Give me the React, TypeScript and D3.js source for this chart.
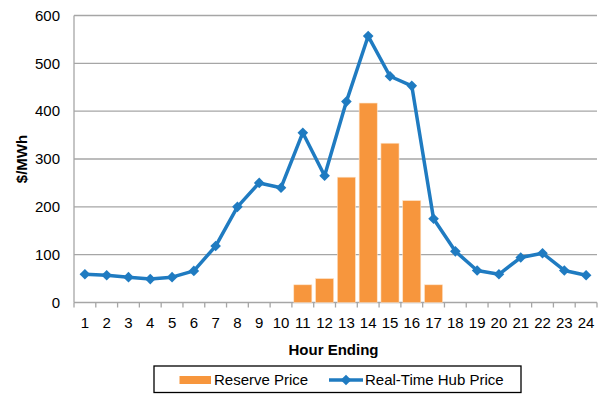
import React from 'react';
import * as d3 from 'd3';

const hours = d3.range(1, 25).map(String);
const hubPrice = [59, 57, 53, 49, 53, 66, 118, 200, 250, 240, 355, 265, 420, 557, 473, 453, 175, 107, 67, 59, 94, 103, 67, 57];
const reservePrice = [0, 0, 0, 0, 0, 0, 0, 0, 0, 0, 37, 50, 262, 417, 333, 213, 37, 0, 0, 0, 0, 0, 0, 0];
const yTicks = [0, 100, 200, 300, 400, 500, 600];

const width = 600;
const height = 399;
const margin = { top: 15.5, right: 3, bottom: 96.5, left: 74 };
const innerWidth = width - margin.left - margin.right;
const innerHeight = height - margin.top - margin.bottom;

const ORANGE = '#F7963D';
const BLUE = '#1F7BC1';
const FONT = 'Liberation Sans, Arial, sans-serif';

const App = () => {
  const x = d3.scaleBand().domain(hours).range([0, innerWidth]).paddingInner(0.17).paddingOuter(0.085);
  const xb = d3.scaleBand().domain(hours).range([0, innerWidth]);
  const y = d3.scaleLinear().domain([0, 600]).range([innerHeight, 0]);

  const line = d3.line<number>()
    .x((_, i) => (xb(hours[i]) as number) + xb.bandwidth() / 2)
    .y(d => y(d));

  const diamond = d3.symbol().type(d3.symbolDiamond2).size(72)();

  return (
    <svg width={width} height={height} style={{ position: 'absolute', left: 0, top: 0 }} fontFamily={FONT}>
      <g transform={`translate(${margin.left},${margin.top})`}>
        {yTicks.map(t => (
          <g key={t}>
            {t > 0 && <line x1={0} x2={innerWidth} y1={y(t)} y2={y(t)} stroke="#a6a6a6" strokeWidth={1.3} />}
            <text x={-14} y={y(t)} dy="0.35em" textAnchor="end" fontSize={15} fill="#000">{t}</text>
          </g>
        ))}
        <line x1={0} x2={0} y1={0} y2={innerHeight} stroke="#a6a6a6" strokeWidth={1.3} />
        <line x1={0} x2={innerWidth} y1={innerHeight} y2={innerHeight} stroke="#a6a6a6" strokeWidth={1.3} />
        {hours.map(h => (
          <line key={'t' + h} x1={xb(h)} x2={xb(h)} y1={innerHeight} y2={innerHeight + 5} stroke="#a6a6a6" strokeWidth={1.3} />
        ))}
        <line x1={innerWidth} x2={innerWidth} y1={innerHeight} y2={innerHeight + 5} stroke="#a6a6a6" strokeWidth={1.3} />
        {hours.map(h => (
          <text key={'l' + h} x={(xb(h) as number) + xb.bandwidth() / 2} y={innerHeight + 25} textAnchor="middle" fontSize={15} fill="#000">{h}</text>
        ))}
        {reservePrice.map((v, i) => v > 0 && (
          <rect key={'b' + i} x={x(hours[i])} y={y(v)} width={x.bandwidth()} height={innerHeight - y(v)} fill={ORANGE} stroke="#fde3c8" strokeWidth={0.6} />
        ))}
        <path d={line(hubPrice) as string} fill="none" stroke={BLUE} strokeWidth={3.5} strokeLinejoin="round" />
        {hubPrice.map((v, i) => (
          <path key={'m' + i} d={diamond as string} transform={`translate(${(xb(hours[i]) as number) + xb.bandwidth() / 2},${y(v)})`} fill={BLUE} />
        ))}
        <text x={innerWidth / 2 - 2} y={innerHeight + 52} textAnchor="middle" fontSize={15} fontWeight="bold">Hour Ending</text>
      </g>
      <text transform={`translate(27,${margin.top + innerHeight / 2}) rotate(-90)`} textAnchor="middle" fontSize={15} fontWeight="bold">$/MWh</text>
      <g>
        <rect x={154} y={366} width={367} height={26.5} fill="#fff" stroke="#000" strokeWidth={1.3} />
        <rect x={179.5} y={376} width={31.5} height={8} fill={ORANGE} />
        <text x={214} y={380} dy="0.35em" fontSize={15}>Reserve Price</text>
        <line x1={329} x2={363} y1={380} y2={380} stroke={BLUE} strokeWidth={3.5} />
        <path d={diamond as string} transform="translate(346,380)" fill={BLUE} />
        <text x={365} y={380} dy="0.35em" fontSize={15}>Real-Time Hub Price</text>
      </g>
    </svg>
  );
};

export default App;
